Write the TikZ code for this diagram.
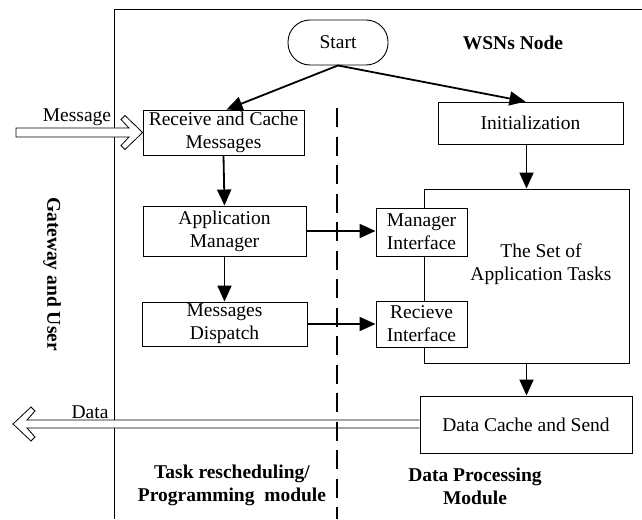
\documentclass[tikz,border=0pt]{standalone}
\usepackage{fontspec}
\setmainfont{Liberation Serif}
\usetikzlibrary{arrows.meta}
\begin{document}
\begin{tikzpicture}[x=1pt,y=-1pt,
  every node/.style={font=\fontsize{19.5}{23}\selectfont},
  box/.style={draw, line width=0.9pt, fill=white, align=center, inner sep=0pt},
  lbl/.style={align=center, inner sep=0pt},
  blbl/.style={align=center, inner sep=0pt, font=\fontsize{19.5}{23}\selectfont\bfseries},
  flow/.style={line width=1.8pt, -{Triangle[length=16pt,width=14pt]}},
  hollow/.style={line width=0.8pt, fill=white, line join=miter}]
\useasboundingbox (0,0) rectangle (642,519);

% outer frame of the node area
\draw[line width=0.9pt] (642,9) -- (114.5,9) -- (114.5,519);

% process blocks
\node[box, rounded corners=22pt, minimum width=100pt, minimum height=45pt] (start) at (338,42.5) {Start};
\node[box, minimum width=161pt, minimum height=45pt] (recv) at (223.5,132.5) {Receive and Cache\\Messages};
\node[box, minimum width=163pt, minimum height=50pt] (appm) at (224.5,231) {Application\\Manager};
\node[box, minimum width=165pt, minimum height=44pt] (disp) at (224.5,324) {Messages\\Dispatch};
\node[box, minimum width=185pt, minimum height=42pt] (init) at (530.5,123) {Initialization};
\node[box, minimum width=205pt, minimum height=174pt] (set) at (526.5,276) {};
\node[lbl] (settext) at (541,264) {The Set of\\Application Tasks};
\node[box, minimum width=91pt, minimum height=48pt] (mif) at (421.5,232) {Manager\\Interface};
\node[box, minimum width=91pt, minimum height=46pt] (rif) at (421.5,324) {Recieve\\Interface};
\node[box, minimum width=212pt, minimum height=57pt] (dcs) at (526,424.5) {Data Cache and Send};

% labels
\node[blbl] (wsn) at (513,43) {WSNs Node};
\node[blbl, rotate=-90] (gw) at (52,274) {Gateway and User};
\node[blbl] (task) at (232,485.5) {Task rescheduling/\\Programming\ \ module};
\node[blbl] (dpm) at (475,486.5) {Data Processing\\Module};
\node[lbl] (msgl) at (77,117) {Message};
\node[lbl] (datal) at (90,412) {Data};

% incoming message arrow (hollow, double line)
\coordinate (mtail) at (16,128);
\draw[hollow] (mtail) -- (129,128) -- (121,119.5) -- (125,115.5) -- (recv.west)
  -- (125,149.5) -- (121,145.5) -- (129,137) -- (16,137) -- cycle;

% outgoing data arrow (hollow, double line)
\coordinate (dtip) at (13,424);
\draw[hollow] (dcs.west |- 0,420) -- (27,420) -- (35,411) -- (31,407) -- (dtip)
  -- (31,441) -- (35,437) -- (27,428) -- (dcs.west |- 0,428);

% module separator
\coordinate (sepTop) at (337,108);
\coordinate (sepBot) at (337,519);
\draw[line width=2.8pt, dash pattern=on 19pt off 9.5pt] (sepTop) -- (sepBot);

% control flow
\draw[flow] (start.south) -- ([xshift=3pt]recv.north);
\draw[flow] (start.south) -- ([xshift=-5pt]init.north);
\draw[flow] (recv.south) -- (appm.north);
\draw[flow] (appm.south) -- (disp.north);
\draw[flow] (set.north |- init.south) -- (set.north);
\draw[flow] (set.south) -- (set.south |- dcs.north);
\draw[flow] (appm.east) -- (appm.east -| mif.west);
\draw[flow] (disp.east) -- (disp.east -| rif.west);
\end{tikzpicture}
\end{document}
